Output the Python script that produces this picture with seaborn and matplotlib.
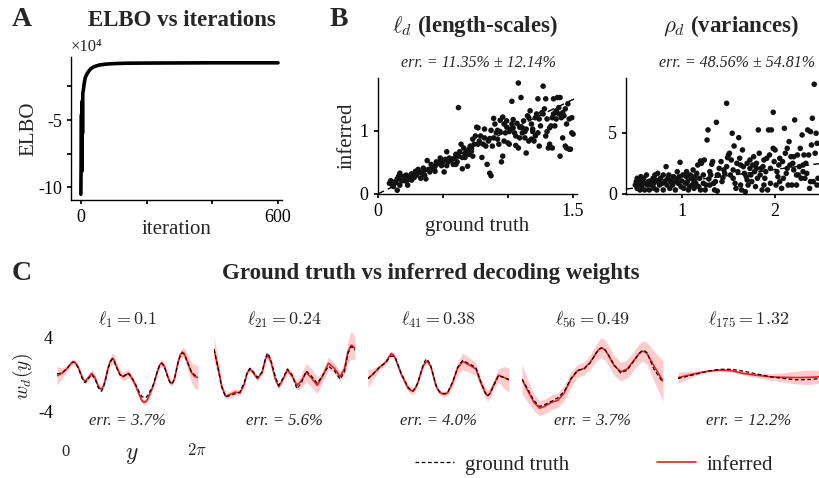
import numpy as np
import pandas as pd
import matplotlib
matplotlib.use("Agg")
import matplotlib.pyplot as plt
from matplotlib.lines import Line2D
import seaborn as sns

# ---------------- data ----------------
# A: ELBO trace (units of 1e4)
iterations = [0, 1, 2, 3, 4, 5, 6, 8, 10, 13, 17, 22, 30, 40, 55, 75, 100, 140, 200, 300, 400, 500, 600]
elbo_1e4 = [-10.5, -7.5, -4.6, -8.8, -3.6, -6.0, -3.0, -2.7, -2.3, -1.9, -1.65, -1.45, -1.2, -1.05,
            -0.93, -0.86, -0.82, -0.79, -0.78, -0.77, -0.76, -0.76, -0.76]

# B: length-scales (ground truth, inferred)
ell_pairs = [
    (0.09, 0.17), (0.10, 0.21), (0.12, 0.12), (0.13, 0.19), (0.15, 0.06), (0.15, 0.24), (0.17, 0.33),
    (0.17, 0.14), (0.19, 0.21), (0.20, 0.28), (0.22, 0.20), (0.22, 0.30), (0.23, 0.14), (0.25, 0.24),
    (0.26, 0.32), (0.28, 0.26), (0.29, 0.36), (0.30, 0.30), (0.31, 0.39), (0.33, 0.25), (0.34, 0.33),
    (0.35, 0.41), (0.36, 0.30), (0.37, 0.24), (0.38, 0.53), (0.39, 0.39), (0.40, 0.35), (0.41, 0.47),
    (0.43, 0.40), (0.44, 0.44), (0.45, 0.51), (0.46, 0.48), (0.48, 0.57), (0.49, 0.45), (0.50, 0.51),
    (0.51, 0.35), (0.52, 0.55), (0.53, 0.67), (0.54, 0.51), (0.55, 0.57), (0.56, 0.53), (0.58, 0.47),
    (0.59, 0.57), (0.60, 0.47), (0.60, 0.63), (0.61, 0.51), (0.62, 1.37), (0.63, 0.67), (0.64, 0.79),
    (0.65, 0.58), (0.65, 0.40), (0.66, 0.73), (0.67, 0.58), (0.68, 0.68), (0.69, 0.44), (0.70, 0.71),
    (0.70, 0.63), (0.71, 0.76), (0.72, 0.68), (0.73, 0.87), (0.73, 0.60), (0.74, 0.79), (0.75, 0.92),
    (0.76, 1.06), (0.77, 0.79), (0.77, 1.05), (0.78, 0.84), (0.79, 0.92), (0.80, 0.58), (0.81, 0.79),
    (0.82, 0.89), (0.82, 1.03), (0.83, 0.76), (0.84, 0.47), (0.85, 0.84), (0.86, 0.88), (0.86, 0.33),
    (0.87, 1.01), (0.87, 0.29), (0.88, 0.76), (0.89, 0.89), (0.89, 1.20), (0.90, 1.11), (0.91, 0.97),
    (0.92, 0.87), (0.92, 1.01), (0.93, 0.79), (0.94, 0.99), (0.94, 1.17), (0.95, 0.51), (0.96, 1.22),
    (0.96, 0.60), (0.97, 0.84), (0.97, 1.11), (0.98, 0.97), (0.99, 1.06), (0.99, 1.16), (1.00, 0.81),
    (1.01, 0.99), (1.01, 0.79), (1.02, 1.03), (1.03, 1.11), (1.03, 1.47), (1.04, 1.18), (1.04, 1.05),
    (1.05, 0.97), (1.06, 0.77), (1.06, 0.92), (1.07, 1.12), (1.08, 0.73), (1.08, 1.76), (1.09, 1.06),
    (1.09, 0.89), (1.10, 1.53), (1.11, 1.05), (1.11, 0.97), (1.12, 1.16), (1.13, 0.89), (1.13, 0.99),
    (1.14, 1.03), (1.14, 0.65), (1.15, 1.24), (1.16, 1.21), (1.16, 0.84), (1.17, 1.32), (1.18, 0.87),
    (1.18, 1.11), (1.19, 1.03), (1.19, 0.99), (1.20, 0.84), (1.21, 1.21), (1.21, 0.92), (1.22, 1.27),
    (1.23, 0.97), (1.23, 1.51), (1.24, 1.19), (1.24, 0.76), (1.25, 1.08), (1.26, 1.29), (1.27, 1.71),
    (1.27, 1.27), (1.28, 1.35), (1.29, 1.51), (1.29, 0.92), (1.30, 0.99), (1.30, 1.19), (1.31, 0.73),
    (1.32, 0.79), (1.32, 1.05), (1.33, 1.08), (1.34, 0.73), (1.34, 1.21), (1.35, 1.27), (1.35, 1.51),
    (1.36, 1.08), (1.37, 1.32), (1.37, 1.19), (1.38, 1.53), (1.39, 1.37), (1.39, 1.27), (1.40, 1.53),
    (1.40, 0.60), (1.41, 1.21), (1.42, 0.89), (1.42, 1.29), (1.43, 1.24), (1.44, 0.76), (1.44, 1.35),
    (1.45, 1.11), (1.45, 0.73), (1.46, 1.43), (1.47, 1.19), (1.47, 0.71), (1.48, 0.71), (1.49, 0.97),
    (1.49, 1.21), (1.50, 0.95), (0.11, 0.15), (0.14, 0.18), (0.18, 0.22), (0.21, 0.25), (0.24, 0.27),
    (0.27, 0.29), (0.32, 0.35), (0.36, 0.38), (0.42, 0.43), (0.47, 0.50), (0.57, 0.55), (0.62, 0.60),
    (0.67, 0.64), (0.72, 0.72), (0.16, 0.28), (0.26, 0.22), (0.44, 0.36), (0.53, 0.45),
]

# B: variances (ground truth, inferred)
rho_pairs = [
    (0.50, 0.73), (0.51, 1.01), (0.52, 0.46), (0.52, 1.28), (0.54, 0.87), (0.55, 0.33), (0.55, 1.14),
    (0.56, 1.41), (0.57, 0.60), (0.58, 1.01), (0.59, 1.28), (0.60, 0.33), (0.61, 0.87), (0.62, 1.55),
    (0.63, 0.73), (0.64, 1.01), (0.65, 0.33), (0.66, 1.06), (0.68, 0.73), (0.69, 1.28), (0.70, 0.46),
    (0.70, 0.87), (0.71, 1.55), (0.72, 1.14), (0.73, 0.33), (0.74, 1.68), (0.75, 1.01), (0.76, 0.73),
    (0.77, 1.28), (0.79, 0.87), (0.80, 0.33), (0.80, 1.55), (0.82, 1.06), (0.83, 2.23), (0.84, 0.73),
    (0.85, 1.28), (0.86, 1.55), (0.87, 0.46), (0.88, 1.01), (0.89, 1.14), (0.90, 0.73), (0.91, 1.41),
    (0.93, 0.33), (0.94, 1.01), (0.95, 1.22), (0.95, 1.82), (0.96, 0.87), (0.97, 1.41), (0.98, 2.58),
    (0.99, 0.60), (1.00, 1.06), (1.01, 1.55), (1.02, 0.46), (1.04, 0.87), (1.05, 1.41), (1.05, 1.82),
    (1.06, 1.01), (1.07, 0.33), (1.08, 0.60), (1.09, 1.55), (1.10, 1.28), (1.11, 0.73), (1.12, 1.96),
    (1.13, 1.01), (1.13, 0.46), (1.14, 1.41), (1.15, 0.87), (1.16, 1.68), (1.17, 2.36), (1.18, 0.60),
    (1.19, 1.28), (1.20, 0.33), (1.20, 2.69), (1.21, 2.50), (1.23, 1.55), (1.23, 0.87), (1.24, 2.77),
    (1.25, 0.33), (1.26, 0.73), (1.27, 4.40), (1.28, 5.22), (1.29, 1.22), (1.30, 0.73), (1.30, 1.82),
    (1.31, 1.55), (1.32, 2.42), (1.33, 2.64), (1.34, 0.87), (1.35, 0.33), (1.36, 1.01), (1.37, 5.84),
    (1.38, 1.55), (1.38, 0.24), (1.39, 1.55), (1.40, 2.09), (1.42, 2.64), (1.43, 1.01), (1.44, 1.33),
    (1.45, 1.96), (1.46, 1.68), (1.48, 7.39), (1.48, 2.23), (1.49, 2.96), (1.50, 3.18), (1.51, 3.32),
    (1.52, 1.55), (1.53, 2.77), (1.54, 4.95), (1.55, 1.28), (1.55, 1.96), (1.56, 3.91), (1.57, 0.87),
    (1.58, 0.46), (1.59, 2.50), (1.60, 1.82), (1.61, 4.59), (1.62, 2.91), (1.63, 0.73), (1.63, 2.36),
    (1.64, 0.33), (1.65, 3.59), (1.66, 2.23), (1.67, 1.68), (1.68, 0.19), (1.69, 1.41), (1.70, 1.14),
    (1.70, 2.50), (1.71, 0.73), (1.73, 2.77), (1.73, 2.09), (1.74, 1.55), (1.75, 1.01), (1.76, 2.36),
    (1.77, 3.04), (1.78, 1.82), (1.79, 0.60), (1.80, 2.09), (1.80, 2.50), (1.81, 1.28), (1.82, 5.22),
    (1.83, 3.32), (1.84, 1.55), (1.85, 2.09), (1.86, 0.33), (1.87, 2.23), (1.88, 0.73), (1.88, 2.77),
    (1.89, 1.28), (1.90, 1.82), (1.91, 2.91), (1.92, 0.33), (1.93, 5.22), (1.94, 3.18), (1.95, 2.09),
    (1.95, 0.87), (1.96, 5.22), (1.98, 6.66), (1.98, 3.72), (1.99, 2.64), (2.00, 3.59), (2.01, 0.73),
    (2.02, 1.82), (2.03, 1.41), (2.04, 2.36), (2.05, 1.01), (2.05, 2.91), (2.07, 0.46), (2.08, 2.64),
    (2.09, 1.28), (2.10, 5.35), (2.11, 3.32), (2.12, 1.68), (2.13, 2.09), (2.13, 3.72), (2.14, 0.73),
    (2.15, 4.27), (2.16, 2.36), (2.17, 3.04), (2.18, 0.73), (2.19, 2.50), (2.20, 1.96), (2.20, 3.04),
    (2.21, 6.03), (2.23, 1.55), (2.23, 0.73), (2.24, 3.18), (2.25, 1.55), (2.26, 2.23), (2.27, 3.72),
    (2.28, 1.28), (2.29, 4.81), (2.30, 2.36), (2.30, 1.82), (2.31, 3.18), (2.32, 1.28), (2.33, 2.50),
    (2.34, 1.68), (2.35, 5.22), (2.36, 3.18), (2.37, 0.46), (2.38, 1.01), (2.38, 5.08), (2.39, 3.99),
    (2.40, 6.17), (2.41, 1.01), (2.42, 8.94), (2.43, 3.32), (2.44, 4.95), (2.45, 4.13), (2.45, 0.73),
    (2.46, 1.28),
]
ell_true, ell_inferred = map(np.array, zip(*ell_pairs))
rho_true, rho_inferred = map(np.array, zip(*rho_pairs))

# C: decoding weights, positions given as fraction of the circle [0, 2*pi]
grid_1 = [0.000, 0.033, 0.068, 0.100, 0.116, 0.133, 0.151, 0.179, 0.188, 0.198, 0.210, 0.222, 0.245,
          0.269, 0.292, 0.305, 0.316, 0.328, 0.340, 0.363, 0.380, 0.394, 0.405, 0.417, 0.446, 0.469,
          0.505, 0.528, 0.559, 0.587, 0.602, 0.618, 0.632, 0.646, 0.682, 0.710, 0.727, 0.741, 0.752,
          0.764, 0.788, 0.800, 0.811, 0.823, 0.835, 0.858, 0.875, 0.889, 0.903, 0.917, 0.953, 0.976,
          1.000]
inferred_1 = [-0.11, 0.15, 0.63, 1.25, 1.44, 1.25, 0.81, -0.30, -0.55, -0.67, -0.55, -0.30, 0.15,
              -0.30, -1.22, -1.48, -1.59, -1.25, -0.67, 0.81, 1.55, 1.81, 1.60, 1.07, 0.07, -0.22,
              0.15, -0.30, -1.22, -2.33, -2.80, -3.00, -2.90, -2.52, -1.22, 0.26, 1.05, 1.30, 1.15,
              0.81, -0.30, -0.75, -0.96, -0.78, -0.30, 1.37, 2.20, 2.48, 2.30, 1.74, 0.26, -0.19,
              -0.30]
truth_1 = [0.10, 0.20, 0.63, 1.22, 1.40, 1.20, 0.75, -0.40, -0.70, -0.85, -0.70, -0.45, 0.05,
           -0.40, -1.35, -1.65, -1.78, -1.40, -0.80, 0.70, 1.45, 1.70, 1.50, 1.00, 0.00, -0.19,
           0.20, -0.20, -1.10, -2.00, -2.35, -2.50, -2.45, -2.20, -1.10, 0.30, 1.00, 1.25, 1.10,
           0.75, -0.35, -0.80, -1.00, -0.80, -0.35, 1.30, 2.10, 2.40, 2.20, 1.70, 0.35, -0.05,
           -0.05]
sd_1 = [1.0, 0.6, 0.3, 0.3, 0.3, 0.3, 0.3, 0.3, 0.3, 0.3, 0.3, 0.3, 0.4, 0.4, 0.3, 0.3, 0.3, 0.3,
        0.3, 0.4, 0.5, 0.6, 0.55, 0.5, 0.4, 0.5, 0.5, 0.4, 0.3, 0.3, 0.3, 0.3, 0.3, 0.3, 0.3, 0.3,
        0.35, 0.4, 0.4, 0.4, 0.3, 0.3, 0.3, 0.3, 0.3, 0.4, 0.45, 0.5, 0.6, 0.7, 1.1, 1.3, 1.3]

grid_2 = [0.000, 0.031, 0.054, 0.082, 0.113, 0.148, 0.184, 0.214, 0.235, 0.254, 0.270, 0.308, 0.341,
          0.365, 0.379, 0.393, 0.407, 0.435, 0.459, 0.489, 0.520, 0.553, 0.588, 0.619, 0.654, 0.689,
          0.732, 0.765, 0.812, 0.854, 0.894, 0.925, 0.950, 0.972, 0.988, 1.000]
inferred_2 = [2.78, 0.63, -1.22, -2.33, -2.15, -1.89, -1.96, -1.04, 0.20, 0.63, 0.40, -0.41, 0.26,
              1.70, 2.11, 1.80, 1.19, -0.48, -1.30, -0.48, 0.52, -0.11, -1.15, -0.67, 0.26, -0.30,
              -1.15, -0.30, 1.26, 0.70, -0.19, 0.63, 2.50, 3.22, 3.10, 2.78]
truth_2 = [2.78, 0.55, -1.30, -2.41, -2.26, -2.07, -1.89, -0.85, 0.20, 0.70, 0.50, -0.30, 0.30,
           1.80, 2.37, 2.00, 1.40, -0.20, -1.15, -0.40, 0.63, 0.00, -1.52, -0.90, 0.41, -0.10,
           -0.93, -0.20, 0.93, 0.45, -0.48, 0.30, 2.30, 3.04, 2.95, 2.67]
sd_2 = [1.4, 0.8, 0.4, 0.3, 0.4, 0.4, 0.3, 0.3, 0.3, 0.3, 0.3, 0.3, 0.3, 0.4, 0.4, 0.4, 0.4, 0.3,
        0.3, 0.3, 0.4, 0.4, 0.5, 0.8, 1.0, 1.0, 0.9, 0.6, 0.7, 0.6, 0.5, 0.7, 1.2, 1.5, 1.4, 1.2]

grid_3 = [0.000, 0.035, 0.082, 0.125, 0.150, 0.165, 0.180, 0.195, 0.235, 0.282, 0.300, 0.318, 0.336,
          0.353, 0.388, 0.402, 0.416, 0.430, 0.447, 0.482, 0.505, 0.525, 0.545, 0.565, 0.600, 0.635,
          0.671, 0.718, 0.765, 0.800, 0.830, 0.847, 0.865, 0.882, 0.925, 0.965, 1.000]
inferred_3 = [-0.41, 0.07, 0.81, 1.37, 2.00, 2.30, 2.15, 1.74, 0.07, -1.41, -1.65, -1.78, -1.45,
              -0.85, 0.81, 1.25, 1.44, 1.30, 0.81, -1.22, -1.85, -2.07, -2.10, -1.96, -0.85, 0.70,
              1.44, 1.07, 0.63, -0.85, -1.90, -2.26, -2.00, -1.41, -0.04, -0.30, -0.56]
truth_3 = [-0.41, 0.07, 0.85, 1.30, 1.80, 2.04, 2.00, 1.80, 0.20, -1.30, -1.60, -1.78, -1.45,
           -0.90, 0.90, 1.45, 1.74, 1.45, 0.90, -1.10, -1.80, -2.00, -2.05, -1.90, -0.80, 0.80,
           1.56, 1.20, 0.81, -0.75, -1.90, -2.33, -2.05, -1.50, -0.10, -0.30, -0.50]
sd_3 = [1.0, 0.6, 0.3, 0.3, 0.3, 0.3, 0.3, 0.3, 0.3, 0.4, 0.4, 0.4, 0.4, 0.3, 0.3, 0.3, 0.3, 0.3,
        0.3, 0.3, 0.3, 0.3, 0.3, 0.3, 0.4, 0.7, 0.9, 0.8, 0.7, 0.5, 0.6, 0.6, 0.6, 0.5, 0.7, 1.2, 1.3]

grid_4 = [0.000, 0.042, 0.085, 0.124, 0.160, 0.207, 0.254, 0.300, 0.347, 0.394, 0.441, 0.484, 0.523,
          0.545, 0.563, 0.585, 0.606, 0.653, 0.700, 0.746, 0.793, 0.830, 0.852, 0.870, 0.887, 0.934,
          1.000]
inferred_4 = [-0.48, -1.78, -3.00, -3.63, -3.44, -3.00, -2.78, -1.96, -0.48, 0.44, 0.70, 1.37, 2.30,
              2.75, 2.93, 2.75, 2.30, 1.00, 0.33, 0.63, 1.56, 2.30, 2.56, 2.50, 2.30, 1.00, -0.67]
truth_4 = [-0.48, -1.60, -2.80, -3.44, -3.25, -2.90, -2.50, -1.80, -0.40, 0.50, 0.65, 1.30, 2.30,
           2.75, 2.93, 2.80, 2.35, 1.10, 0.20, 0.50, 1.50, 2.30, 2.63, 2.60, 2.40, 0.65, -0.85]
sd_4 = [1.6, 1.2, 0.9, 0.8, 0.8, 0.8, 0.8, 0.8, 0.8, 0.7, 0.7, 0.8, 0.9, 1.0, 1.1, 1.1, 1.1, 1.1,
        1.0, 1.0, 1.0, 1.05, 1.1, 1.15, 1.2, 1.6, 2.2]

grid_5 = [0.000, 0.130, 0.213, 0.296, 0.379, 0.462, 0.557, 0.652, 0.746, 0.841, 0.924, 1.000]
inferred_5 = [-0.30, 0.15, 0.40, 0.52, 0.45, 0.15, -0.05, -0.22, -0.28, -0.30, -0.28, -0.22]
truth_5 = [-0.41, 0.07, 0.40, 0.60, 0.60, 0.40, 0.10, -0.20, -0.40, -0.55, -0.52, -0.41]
sd_5 = [0.6, 0.25, 0.15, 0.15, 0.15, 0.2, 0.25, 0.35, 0.5, 0.7, 0.8, 0.7]

panel_titles = [r"$\ell_{1} = 0.1$", r"$\ell_{21} = 0.24$", r"$\ell_{41} = 0.38$",
                r"$\ell_{56} = 0.49$", r"$\ell_{175} = 1.32$"]
panel_errors = ["err. = 3.7%", "err. = 5.6%", "err. = 4.0%", "err. = 3.7%", "err. = 12.2%"]

weights = [(grid_1, truth_1, inferred_1, sd_1), (grid_2, truth_2, inferred_2, sd_2),
           (grid_3, truth_3, inferred_3, sd_3), (grid_4, truth_4, inferred_4, sd_4),
           (grid_5, truth_5, inferred_5, sd_5)]

# ---------------- style ----------------
sns.set_theme(style="ticks")
plt.rcParams["font.family"] = ["Liberation Serif", "DejaVu Serif"]
plt.rcParams["mathtext.fontset"] = "cm"
plt.rcParams["axes.edgecolor"] = "black"
plt.rcParams["axes.linewidth"] = 1.0
plt.rcParams["xtick.color"] = "black"
plt.rcParams["ytick.color"] = "black"
plt.rcParams["xtick.major.size"] = 3
plt.rcParams["ytick.major.size"] = 3
plt.rcParams["xtick.labelsize"] = 13
plt.rcParams["ytick.labelsize"] = 13
plt.rcParams["lines.solid_joinstyle"] = "round"
plt.rcParams["lines.dash_joinstyle"] = "round"

W, H = 819, 478
fig = plt.figure(figsize=(W / 100, H / 100), dpi=100)


def px_axes(left, top, right, bottom):
    return fig.add_axes([left / W, 1 - bottom / H, (right - left) / W, (bottom - top) / H])


def px_text(x, y, s, **kw):
    kw.setdefault("ha", "center")
    kw.setdefault("va", "center")
    fig.text(x / W, 1 - y / H, s, **kw)


# ---------------- A ----------------
axA = px_axes(71, 57, 282, 200)
sns.lineplot(x=iterations, y=elbo_1e4, ax=axA, color="black", linewidth=2.6, legend=False)
axA.set_xlim(-30, 612)
axA.set_ylim(-10.93, -0.33)
axA.set_xticks([0, 200, 400, 600], ["0", "", "", "600"])
axA.set_yticks([-10, -7.5, -5, -2.5], ["-10", "", "-5", ""])
axA.set_xlabel("iteration", fontsize=15, labelpad=-4)
axA.set_ylabel("ELBO", fontsize=15, labelpad=0)
sns.despine(ax=axA)
px_text(87, 47, "×10⁴", fontsize=12)
px_text(22, 20, "A", fontsize=20, fontweight="bold")
px_text(182, 21, "ELBO vs iterations", fontsize=16.5, fontweight="bold")

# ---------------- B ----------------
axB1 = px_axes(377.7, 78, 577, 194)
axB1.axline((0, 0), slope=1, color="black", linewidth=1, linestyle=(0, (5, 3)), zorder=1)
sns.scatterplot(x=ell_true, y=ell_inferred, ax=axB1, s=16, color="#121212", edgecolor="none",
                linewidth=0, zorder=2)
axB1.set_xlim(0, 1.53)
axB1.set_ylim(0, 1.84)
axB1.set_xticks([0, 0.5, 1.0, 1.5], ["0", "", "", "1.5"])
axB1.set_yticks([0, 1], ["0", "1"])
axB1.set_xlabel("ground truth", fontsize=15, labelpad=-2)
axB1.set_ylabel("inferred", fontsize=15, labelpad=2)
sns.despine(ax=axB1)

axB2 = px_axes(626, 78, 831, 194)
axB2.axline((0, 0), slope=1, color="black", linewidth=1, linestyle=(0, (5, 3)), zorder=1)
sns.scatterplot(x=rho_true, y=rho_inferred, ax=axB2, s=16, color="#121212", edgecolor="none",
                linewidth=0, zorder=2)
axB2.set_xlim(0.40, 2.60)
axB2.set_ylim(0, 9.45)
axB2.set_xticks([1, 2], ["1", "2"])
axB2.set_yticks([0, 5], ["0", "5"])
axB2.set_xlabel("")
axB2.set_ylabel("")
sns.despine(ax=axB2)

px_text(339, 19, "B", fontsize=20, fontweight="bold")
px_text(475, 26, r"$\ell_d$ (length-scales)", fontsize=16.5, fontweight="bold")
px_text(731, 26, r"$\rho_d$ (variances)", fontsize=16.5, fontweight="bold")
px_text(478, 63, "err. = 11.35% ± 12.14%", fontsize=11.5, style="italic")
px_text(737, 63, "err. = 48.56% ± 54.81%", fontsize=11.5, style="italic")

# ---------------- C ----------------
px_text(22, 273, "C", fontsize=20, fontweight="bold")
px_text(431, 273, "Ground truth vs inferred decoding weights", fontsize=16.5, fontweight="bold")

lefts = [57, 214, 368, 522, 678]
red = "#ec1c24"
for i, (left, (grid, truth, inferred, sd)) in enumerate(zip(lefts, weights)):
    ax = px_axes(left, 328.8, left + 141, 420.8)
    y_pos = np.array(grid) * 2 * np.pi
    mu = np.array(inferred)
    band = np.array(sd)
    ax.fill_between(y_pos, mu - band, mu + band, color="#ff0000", alpha=0.2, linewidth=0)
    sns.lineplot(x=y_pos, y=mu, ax=ax, color=red, linewidth=1.2, legend=False)
    sns.lineplot(x=y_pos, y=truth, ax=ax, color="black", linewidth=0.9,
                 linestyle=(0, (3, 2)), legend=False)
    ax.set_xlim(0, 2 * np.pi)
    ax.set_ylim(-5, 5)
    ax.set_xticks([])
    ax.set_xlabel("")
    if i == 0:
        ax.set_yticks([4, -4], ["4", "-4"])
        ax.tick_params(axis="y", length=0, pad=3)
    else:
        ax.set_yticks([])
    ax.set_ylabel("")
    for s in ax.spines.values():
        s.set_visible(False)
    ax.patch.set_alpha(0)
    cx = left + 70.5
    px_text(cx, 320, panel_titles[i], fontsize=13)
    px_text(cx, 421, panel_errors[i], fontsize=12, style="italic")

px_text(23, 376, r"$w_d(y)$", fontsize=14, rotation=90)
px_text(65, 452, "0", fontsize=12)
px_text(197, 451, r"$2\pi$", fontsize=12)
px_text(132, 455, r"$y$", fontsize=17)

handles = [Line2D([], [], color="black", linewidth=0.9, linestyle=(0, (3, 2))),
           Line2D([], [], color=red, linewidth=1.2)]
fig.legend(handles, ["ground truth", "inferred"], loc="center",
           bbox_to_anchor=(594 / W, 1 - 465 / H), ncol=2, frameon=False, fontsize=15,
           handlelength=1.9, handletextpad=0.5, columnspacing=4.2)

fig.savefig("out.png", dpi=100)
